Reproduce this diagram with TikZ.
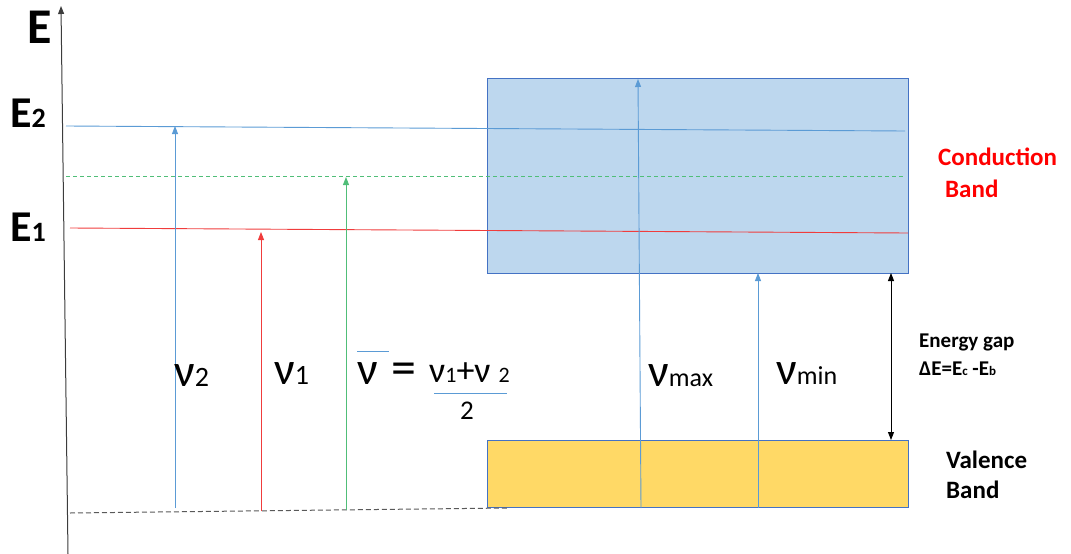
\documentclass[tikz,border=0pt]{standalone}
\usepackage{fontspec}
\setmainfont{Carlito}
\usetikzlibrary{arrows.meta}
\definecolor{lblue}{RGB}{91,155,213}
\definecolor{bblue}{RGB}{68,114,196}
\definecolor{cbfill}{RGB}{189,215,238}
\definecolor{vbfill}{RGB}{255,217,102}
\definecolor{lred}{RGB}{240,60,60}
\definecolor{lgreen}{RGB}{80,190,120}
\definecolor{axisgray}{RGB}{60,60,60}
\newcommand\myfs[1]{\fontsize{#1}{#1}\selectfont}
\begin{document}
\begin{tikzpicture}[x=1pt,y=-1pt,
  lbl/.style={inner sep=0pt,anchor=base west},
  tipA/.style={-{Triangle[length=8pt,width=6pt]}},
  level/.style={line width=0.9pt}]
\useasboundingbox (0,0) rectangle (1071,554);
% bands
\draw[bblue,fill=cbfill,line width=0.7pt] (487,78) rectangle (908,273);
\draw[bblue,fill=vbfill,line width=0.7pt] (487,440) rectangle (908,507);
\coordinate (cbL) at (891,273);
\coordinate (vbT) at (891,440);
% axis
\coordinate (axB) at (68,554);
\coordinate (axT) at (61,6);
\draw[axisgray,line width=1pt,tipA] (axB) -- (axT);
% levels
\coordinate (e2a) at (66,126); \coordinate (e2b) at (905,131);
\coordinate (ema) at (66,176); \coordinate (emb) at (905,176);
\coordinate (e1a) at (70,228); \coordinate (e1b) at (908,233);
\coordinate (g0a) at (70,513); \coordinate (g0b) at (508,508);
\draw[level,lblue] (e2a) -- (e2b);
\draw[level,lgreen,dash pattern=on 4pt off 3pt] (ema) -- (emb);
\draw[level,lred] (e1a) -- (e1b);
\draw[line width=1pt,gray!70!black,dash pattern=on 5pt off 3pt] (g0a) -- (g0b);
% transitions
\coordinate (n2b) at (175,508); \coordinate (n2t) at (175,126);
\coordinate (n1b) at (261,511); \coordinate (n1t) at (261,232);
\coordinate (nmb) at (346,510); \coordinate (nmt) at (346,177);
\coordinate (nxb) at (641,508); \coordinate (nxt) at (638,79);
\coordinate (nnb) at (758,508); \coordinate (nnt) at (758,273);
\draw[level,lblue,tipA] (n2b) -- (n2t);
\draw[level,lred,tipA] (n1b) -- (n1t);
\draw[level,lgreen,tipA] (nmb) -- (nmt);
\draw[level,lblue,tipA] (nxb) -- (nxt);
\draw[level,lblue,tipA] (nnb) -- (nnt);
\draw[line width=0.9pt,{Triangle[length=8pt,width=6pt]}-{Triangle[length=8pt,width=6pt]}] (cbL) -- (vbT);
% axis labels
\node[lbl] (lE) at (27,43) {\myfs{50}\bfseries E};
\node[lbl] (lE2) at (10,127) {\myfs{44}\bfseries E\myfs{28}2};
\node[lbl] (lE1) at (10,241) {\myfs{44}\bfseries E\myfs{28}1};
% nu labels
\node[lbl] (l2) at (174,386) {\myfs{46}ν\myfs{28}2};
\node[lbl] (l1) at (274,384) {\myfs{46}ν\myfs{28}1};
\node[lbl] (lbar) at (357,384) {\myfs{46}ν};
\draw[lblue,line width=0.8pt] (357,351) -- (389,351);
\node[lbl] (leq) at (391,384) {\myfs{50}=};
\node[lbl] (lsum) at (429,382) {\myfs{36}ν\myfs{22}1\myfs{36}+ν \myfs{22}2};
\draw[lblue,line width=0.8pt] (434,393) -- (507,393);
\node[lbl] (lden) at (460,419) {\myfs{27}2};
\node[lbl] (lmax) at (648,386) {\myfs{46}ν\myfs{26}max};
\node[lbl] (lmin) at (776,384) {\myfs{46}ν\myfs{26}min};
% right labels
\node[lbl,text=red] (cb1) at (938,165) {\myfs{25}\bfseries Conduction};
\node[lbl,text=red] (cb2) at (945,197) {\myfs{25}\bfseries Band};
\node[lbl] (eg1) at (919,347) {\myfs{21}\bfseries Energy gap};
\node[lbl] (eg2) at (919,375) {\myfs{21}\bfseries ΔE=E\myfs{13}c\myfs{21} -E\myfs{13}b};
\node[lbl] (vb1) at (946,468) {\myfs{25}\bfseries Valence};
\node[lbl] (vb2) at (946,498) {\myfs{25}\bfseries Band};
\end{tikzpicture}
\end{document}
